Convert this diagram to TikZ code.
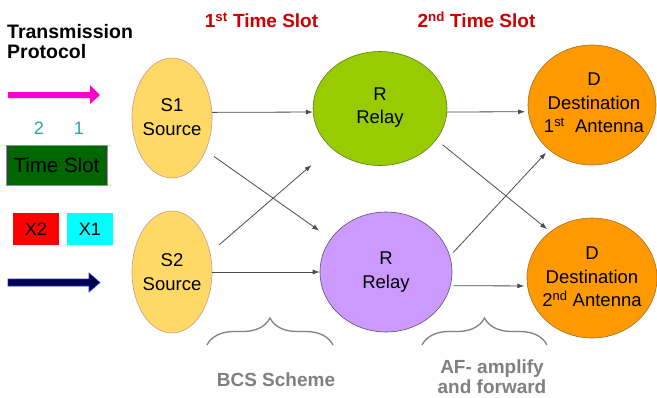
\documentclass[tikz,border=0pt]{standalone}
\usepackage{fontspec}
\setmainfont{Liberation Sans}
\usetikzlibrary{shapes.geometric,arrows.meta,decorations.pathreplacing}
\definecolor{sfill}{HTML}{FFD966}
\definecolor{sline}{HTML}{C89A90}
\definecolor{gfill}{HTML}{99CC00}
\definecolor{gline}{HTML}{5E7F1A}
\definecolor{pfill}{HTML}{CC99FF}
\definecolor{pline}{HTML}{555566}
\definecolor{ofill}{HTML}{FF9900}
\definecolor{oline}{HTML}{A86A20}
\definecolor{titlered}{HTML}{CC0000}
\definecolor{teal1}{HTML}{2AA3A3}
\definecolor{tsgreen}{HTML}{006600}
\definecolor{tsline}{HTML}{CC66CC}
\definecolor{pinkarr}{HTML}{FF00CC}
\definecolor{navyarr}{HTML}{000050}
\definecolor{navyline}{HTML}{3030D0}
\definecolor{labgray}{HTML}{808080}
\definecolor{xred}{HTML}{FF0000}
\definecolor{xcyan}{HTML}{00FFFF}
\begin{document}
\begin{tikzpicture}[x=1pt,y=-1pt,
  ell/.style={ellipse, inner sep=0pt, line width=0.6pt},
  etxt/.style={align=center, inner sep=0pt, font=\fontsize{18.5}{23.5}\selectfont},
  arr/.style={draw=black!70, line width=0.8pt, -{Latex[length=7pt,width=5pt]}},
  brc/.style={decorate, decoration={brace, amplitude=27pt}, draw=labgray, line width=1.3pt},
  title/.style={text=titlered, font=\fontsize{19}{23}\selectfont\bfseries, inner sep=0pt},
  glab/.style={text=labgray, align=center, inner sep=0pt, font=\fontsize{19}{20}\selectfont\bfseries},
  box/.style={inner sep=0pt, font=\fontsize{18}{20}\selectfont}]
\useasboundingbox (0,0) rectangle (657,397);

% titles
\node[title] (t1) at (261.5,20) {1\textsuperscript{st} Time Slot};
\node[title] (t2) at (476.5,20) {2\textsuperscript{nd} Time Slot};

% left legend
\node[anchor=west, align=left, inner sep=0pt, font=\fontsize{19.5}{20}\selectfont\bfseries] (tp) at (7,42) {Transmission\\Protocol};
\fill[pinkarr] (8,92) -- (90,92) -- (90,85) -- (100,95) -- (90,104) -- (90,98) -- (8,98) -- cycle;
\node[box, text=teal1] (n2) at (39,128) {2};
\node[box, text=teal1] (n1) at (79,128) {1};
\node[box, draw=tsline, fill=tsgreen, line width=0.6pt, minimum width=101pt, minimum height=40pt] (ts) at (56.5,165) {\fontsize{20.5}{22}\selectfont Time Slot};
\node[box, fill=xred, minimum width=46pt, minimum height=32pt] (x2) at (36,229) {X2};
\node[box, fill=xcyan, minimum width=46pt, minimum height=32pt] (x1) at (90,229) {X1};
\filldraw[fill=navyarr, draw=navyline, line width=0.6pt] (8,279) -- (89,279) -- (89,273) -- (100,282.5) -- (89,292) -- (89,286) -- (8,286) -- cycle;

% ellipses
\node[ell, draw=sline, fill=sfill, minimum width=80pt, minimum height=120pt] (S1) at (172,118) {};
\node[ell, draw=sline, fill=sfill, minimum width=80pt, minimum height=122pt] (S2) at (172,272) {};
\node[ell, draw=gline, fill=gfill, minimum width=134pt, minimum height=114pt] (R1) at (380,108.5) {};
\node[ell, draw=pline, fill=pfill, minimum width=132pt, minimum height=120pt] (R2) at (386,272) {};
\node[ell, draw=oline, fill=ofill, minimum width=128pt, minimum height=120pt] (D1) at (592,105) {};
\node[ell, draw=oline, fill=ofill, minimum width=130pt, minimum height=120pt] (D2) at (592,278) {};

\node[etxt] (S1t) at ([yshift=1pt]S1) {S1\\Source};
\node[etxt] (S2t) at (S2) {S2\\Source};
\node[etxt] (R1t) at ([yshift=1pt]R1) {R\\Relay};
\node[etxt] (R2t) at (R2) {R\\Relay};
\node[etxt] (D1t) at ([xshift=2pt,yshift=2pt]D1) {D\\Destination\\1\textsuperscript{st}\ \ Antenna};
\node[etxt] (D2t) at ([yshift=1pt]D2) {D\\Destination\\2\textsuperscript{nd} Antenna};

% connectors
\draw[arr] (S1.8.6) -- (R1.183);
\draw[arr] (S2.0) -- (R2.180);
\draw[arr, shorten <=10pt, shorten >=14pt] (S1.-44) -- (R2.149.5);
\draw[arr, shorten <=12pt, shorten >=26pt] (S2.27) -- (R1.219);
\draw[arr, shorten >=3pt] (R1.-3) -- (D1.186.3);
\draw[arr, shorten <=8pt, shorten >=4pt] (R1.-29.4) -- (D2.132.7);
\draw[arr, shorten <=5pt, shorten >=4pt] (R2.14.5) -- (D1.226.9);
\draw[arr, shorten <=3pt, shorten >=3pt] (R2.-12.3) -- (D2.187.1);

% braces
\draw[brc] (207,345) -- (333,345);
\draw[brc] (422,345) -- (547,345);
\node[glab] (bcs) at (276,380) {BCS Scheme};
\node[glab] (af) at (492,377) {AF- amplify\\and forward};
\end{tikzpicture}
\end{document}
